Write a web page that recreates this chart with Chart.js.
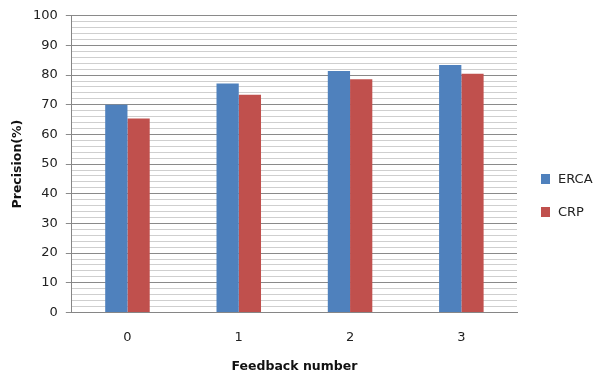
<!DOCTYPE html>
<html>
<head>
<meta charset="utf-8">
<script src="https://cdn.jsdelivr.net/npm/chart.js@4/dist/chart.umd.min.js"></script>
<style>
html,body{margin:0;padding:0;background:#fff;}
#wrap{width:596px;height:376px;position:relative;}
#legend{position:absolute;left:541px;top:171px;font-family:'DejaVu Sans',Verdana,sans-serif;font-size:13px;color:#222;}
.item{position:relative;height:16px;line-height:16px;margin-bottom:17px;padding-left:17px;white-space:nowrap;}
.sw{position:absolute;left:0;top:3px;width:9px;height:10px;}
</style>
</head>
<body>
<div id="wrap"><canvas id="c" width="596" height="376"></canvas><div id="legend"></div></div>
<script>
const categories = ['0', '1', '2', '3'];
const ercaValues = [70, 77.2, 81.4, 83.4];
const crpValues = [65.4, 73.4, 78.6, 80.5];
const seriesNames = ['ERCA', 'CRP'];
const seriesColors = ['#4F81BD', '#C0504D'];
const yTitle = 'Precision(%)';
const xTitle = 'Feedback number';

const FONT = "'DejaVu Sans', Verdana, sans-serif";

const chart = new Chart(document.getElementById('c'), {
  type: 'bar',
  data: {
    labels: categories,
    datasets: [
      { label: seriesNames[0], data: ercaValues, backgroundColor: seriesColors[0], borderWidth: 0 },
      { label: seriesNames[1], data: crpValues, backgroundColor: seriesColors[1], borderWidth: 0 }
    ]
  },
  options: {
    responsive: false,
    animation: false,
    devicePixelRatio: 1,
    layout: { padding: { left: 10, right: 79, top: 6, bottom: 2 } },
    plugins: {
      tooltip: { enabled: false },
      legend: { display: false }
    },
    datasets: { bar: { categoryPercentage: 0.4, barPercentage: 1.0 } },
    scales: {
      x: {
        grid: { display: true, drawOnChartArea: false, drawTicks: false },
        border: { display: true, color: '#868686', width: 1 },
        ticks: { font: { family: FONT, size: 13 }, color: '#222', padding: 17 },
        title: { display: true, text: xTitle, font: { family: FONT, size: 12.5, weight: 'bold' }, color: '#111', padding: { top: -3, bottom: 0 } }
      },
      y: {
        min: 0, max: 100,
        grid: {
          color: ctx => (ctx.tick && ctx.tick.value % 10 === 0) ? '#8a8a8a' : '#cfcfcf',
          tickColor: ctx => (ctx.tick && ctx.tick.value % 10 === 0) ? '#8a8a8a' : 'rgba(0,0,0,0)',
          tickLength: 6,
          lineWidth: 1
        },
        border: { display: true, color: '#868686', width: 1 },
        ticks: {
          stepSize: 2,
          autoSkip: false,
          font: { family: FONT, size: 13 },
          color: '#222',
          padding: 8,
          callback: v => (v % 10 === 0 ? String(v) : '')
        },
        title: { display: true, text: yTitle, font: { family: FONT, size: 12.5, weight: 'bold' }, color: '#111', padding: { top: 0, bottom: 0 } }
      }
    }
  }
});

const legendEl = document.getElementById('legend');
chart.data.datasets.forEach(ds => {
  const item = document.createElement('div');
  item.className = 'item';
  const sw = document.createElement('span');
  sw.className = 'sw';
  sw.style.background = ds.backgroundColor;
  item.appendChild(sw);
  item.appendChild(document.createTextNode(ds.label));
  legendEl.appendChild(item);
});
</script>
</body>
</html>
